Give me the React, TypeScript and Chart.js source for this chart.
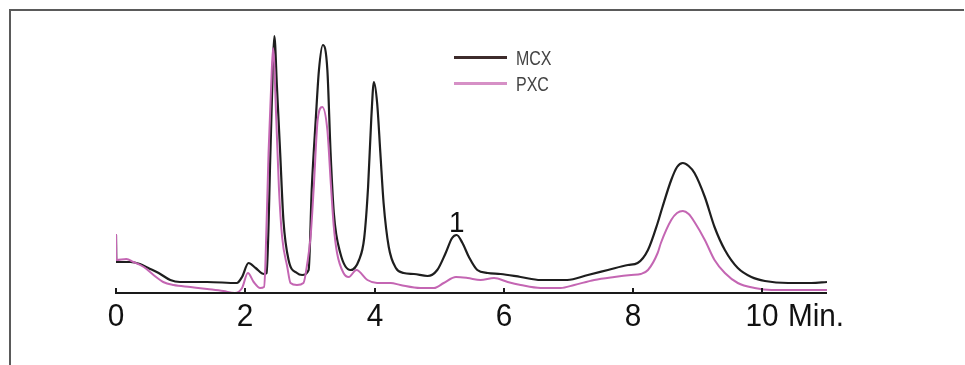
import React, { useEffect, useRef } from 'react';
import { Chart, registerables } from 'chart.js';

Chart.register(...registerables);

// Retention time (min) and detector signal (arbitrary units)
const mcxTime = [
  0.0, 0.005, 0.09, 0.22, 0.37, 0.5, 0.66, 0.84, 0.99, 1.41, 1.87, 1.95, 2.05, 2.16, 2.29,
  2.33, 2.39, 2.43, 2.45, 2.49, 2.54, 2.59, 2.67, 2.8, 2.88,
  2.98, 3.03, 3.09, 3.14, 3.2, 3.27, 3.32, 3.37, 3.47, 3.63, 3.76,
  3.84, 3.9, 3.95, 3.99, 4.04, 4.09, 4.14, 4.22, 4.33, 4.45,
  4.61, 4.82, 4.97, 5.1, 5.2, 5.27, 5.36, 5.46, 5.59, 5.75, 5.95, 6.26, 6.57, 6.98,
  7.3, 7.61, 7.92, 8.07, 8.23, 8.38, 8.45, 8.59, 8.68, 8.77, 8.86, 8.95, 9.11, 9.26,
  9.42, 9.62, 9.83, 10.04, 10.4, 10.76, 11.0,
];
const mcxSignal = [
  58, 31, 31, 31, 29, 25, 20, 13, 11, 11, 10, 16, 30, 25, 19,
  20, 143, 233, 257, 206, 140, 73, 33, 20, 18,
  23, 106, 173, 223, 248, 223, 140, 80, 40, 23, 33,
  55, 106, 175, 211, 190, 140, 90, 46, 25, 20,
  19, 17, 23, 40, 55, 58, 50, 36, 23, 20, 19, 16, 13, 13,
  18, 23, 28, 30, 43, 70, 85, 113, 126, 130, 127, 120, 96, 66,
  43, 25, 16, 12, 10, 10, 11,
];

const pxcTime = [
  0.0, 0.005, 0.16, 0.27, 0.43, 0.58, 0.73, 0.89, 1.15, 1.41, 1.66, 1.84, 1.95, 2.04, 2.13, 2.23, 2.29,
  2.31, 2.36, 2.4, 2.43, 2.48, 2.52, 2.57, 2.65, 2.7, 2.8, 2.9,
  2.96, 3.01, 3.06, 3.12, 3.19, 3.27, 3.32, 3.37, 3.42, 3.52, 3.6, 3.72, 3.89,
  4.04, 4.25, 4.4, 4.71, 4.92, 5.07, 5.26, 5.44, 5.64, 5.85, 6.06, 6.26, 6.57, 6.88,
  7.09, 7.4, 7.71, 7.97, 8.12, 8.23, 8.38, 8.43, 8.59, 8.68, 8.77, 8.86, 8.95, 9.11,
  9.26, 9.42, 9.62, 9.88, 10.14, 11.0,
];
const pxcSignal = [
  59, 33, 34, 31, 26, 18, 11, 8, 6, 4, 2, 0, 5, 20, 11, 5, 6,
  26, 140, 206, 245, 173, 106, 56, 26, 10, 8, 10,
  30, 56, 106, 173, 186, 163, 113, 66, 40, 20, 16, 23, 13,
  10, 10, 8, 5, 5, 10, 16, 15, 13, 15, 11, 8, 5, 5,
  8, 13, 16, 18, 19, 23, 40, 50, 73, 80, 82, 79, 71, 53,
  33, 20, 10, 5, 3, 3,
];

const seriesNames = ['MCX', 'PXC'];
const xTickValues = [0, 2, 4, 6, 8, 10];
const xUnitLabel = 'Min.';
const peakLabel = '1';
const peakLabelTime = 5.27;
const peakLabelSignal = 58;

const FONT = '"Liberation Sans", Arial, Helvetica, sans-serif';
const AXIS_SCALE = 0.93;
const LEGEND_SCALE = 0.82;
const MCX_COLOR = '#1e1e1e';
const PXC_COLOR = '#c466b3';
const MCX_LEGEND = '#3d2b2b';
const PXC_LEGEND = '#d690c6';

function narrowText(ctx: any, text: string, x: number, y: number, size: number, align: string, color: string, sx: number) {
  ctx.save();
  ctx.font = `${size}px ${FONT}`;
  ctx.fillStyle = color;
  ctx.textAlign = align;
  ctx.textBaseline = 'alphabetic';
  ctx.translate(x, y);
  ctx.scale(sx, 1);
  ctx.fillText(text, 0, 0);
  ctx.restore();
}

const decor = {
  id: 'decor',
  beforeDraw(chart: any) {
    const ctx = chart.ctx;
    ctx.save();
    ctx.strokeStyle = '#5a5a5a';
    ctx.lineWidth = 2;
    ctx.beginPath();
    ctx.moveTo(10, 365);
    ctx.lineTo(10, 10);
    ctx.lineTo(964, 10);
    ctx.stroke();
    ctx.restore();
  },
  afterDraw(chart: any) {
    const ctx = chart.ctx;
    const x = chart.scales.x;
    const y = chart.scales.y;
    const area = chart.chartArea;
    ctx.save();
    // axis line
    ctx.strokeStyle = '#1a1a1a';
    ctx.lineWidth = 2;
    ctx.beginPath();
    ctx.moveTo(area.left - 1, area.bottom);
    ctx.lineTo(area.right, area.bottom);
    ctx.stroke();
    // ticks pointing up + labels
    xTickValues.forEach((v) => {
      const px = Math.round(x.getPixelForValue(v));
      ctx.beginPath();
      ctx.moveTo(px, area.bottom);
      ctx.lineTo(px, area.bottom - 5);
      ctx.stroke();
      narrowText(ctx, String(v), px, 326, 32, 'center', '#111', AXIS_SCALE);
    });
    // unit label after last tick label
    const lastVal = xTickValues[xTickValues.length - 1];
    ctx.font = `32px ${FONT}`;
    const w = ctx.measureText(String(lastVal)).width * AXIS_SCALE;
    const cx = x.getPixelForValue(lastVal);
    narrowText(ctx, xUnitLabel, cx + w / 2 + 9, 326, 32, 'left', '#111', AXIS_SCALE);
    // peak label
    narrowText(ctx, peakLabel, x.getPixelForValue(peakLabelTime), y.getPixelForValue(peakLabelSignal) - 3, 30, 'center', '#111', AXIS_SCALE);
    // legend
    const items = [
      { name: seriesNames[0], color: MCX_LEGEND, y: 57.5 },
      { name: seriesNames[1], color: PXC_LEGEND, y: 83.5 },
    ];
    items.forEach((it) => {
      ctx.strokeStyle = it.color;
      ctx.lineWidth = 3;
      ctx.beginPath();
      ctx.moveTo(454, it.y);
      ctx.lineTo(507, it.y);
      ctx.stroke();
      narrowText(ctx, it.name, 516, it.y + 7.5, 19.5, 'left', '#444', LEGEND_SCALE);
    });
    ctx.restore();
  },
};

export default function App() {
  const ref = useRef<HTMLCanvasElement | null>(null);
  useEffect(() => {
    if (!ref.current) return;
    const chart = new Chart(ref.current, {
      type: 'line',
      data: {
        datasets: [
          {
            label: seriesNames[0],
            data: mcxTime.map((t, i) => ({ x: t, y: mcxSignal[i] })),
            borderColor: MCX_COLOR,
            borderWidth: 2.2,
            pointRadius: 0,
            cubicInterpolationMode: 'monotone',
            order: 1,
          },
          {
            label: seriesNames[1],
            data: pxcTime.map((t, i) => ({ x: t, y: pxcSignal[i] })),
            borderColor: PXC_COLOR,
            borderWidth: 2,
            pointRadius: 0,
            cubicInterpolationMode: 'monotone',
            order: 0,
          },
        ],
      },
      options: {
        animation: false,
        responsive: false,
        devicePixelRatio: 1,
        layout: { padding: { left: 116, right: 138, top: 20, bottom: 0 } },
        plugins: { legend: { display: false }, tooltip: { enabled: false } },
        scales: {
          x: {
            type: 'linear',
            min: 0,
            max: 11,
            grid: { display: false, drawTicks: false },
            border: { display: false },
            afterBuildTicks: (s: any) => {
              s.ticks = xTickValues.map((v) => ({ value: v }));
            },
            afterFit: (s: any) => {
              s.height = 72;
            },
            ticks: { display: false },
          },
          y: { display: false, min: 0, max: 273 },
        },
      },
      plugins: [decor],
    } as any);
    return () => chart.destroy();
  }, []);
  return (
    <div style={{ position: 'absolute', left: 0, top: 0, width: 965, height: 365, background: '#fff' }}>
      <canvas ref={ref} width={965} height={365} style={{ display: 'block', width: 965, height: 365 }} />
    </div>
  );
}
